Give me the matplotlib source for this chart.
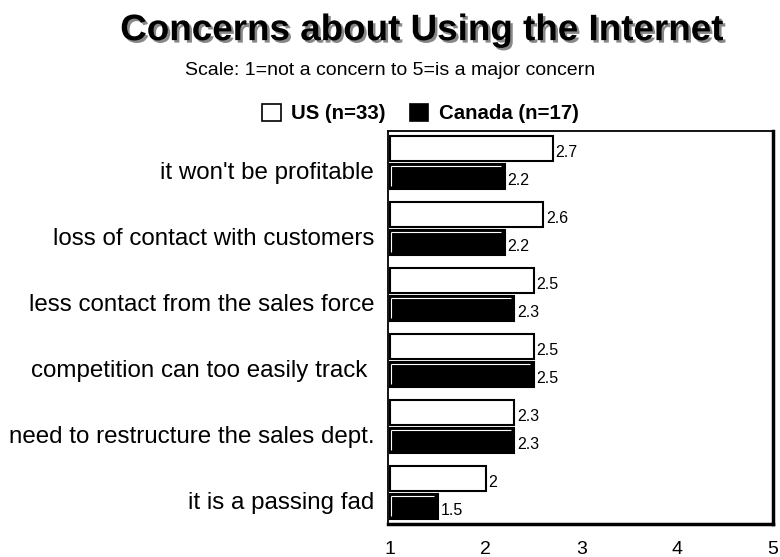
import matplotlib.pyplot as plt
import matplotlib.patheffects as pe
import matplotlib.transforms as mtransforms
from matplotlib.patches import Patch
import numpy as np

plt.rcParams['font.family'] = ['Liberation Sans', 'DejaVu Sans']

concerns = [
    "it won't be profitable",
    "loss of contact with customers",
    "less contact from the sales force",
    "competition can too easily track ",
    "need to restructure the sales dept.",
    "it is a passing fad",
]
us_scores = [2.7, 2.6, 2.5, 2.5, 2.3, 2.0]
canada_scores = [2.2, 2.2, 2.3, 2.5, 2.3, 1.5]
us_labels = ["2.7", "2.6", "2.5", "2.5", "2.3", "2"]
canada_labels = ["2.2", "2.2", "2.3", "2.5", "2.3", "1.5"]
x_ticks = [1, 2, 3, 4, 5]

base = 1
fig = plt.figure(figsize=(7.8, 5.57), dpi=100)
ax = fig.add_axes([0.4974, 0.0592, 0.4936, 0.7056])

y = np.arange(len(concerns))
h = 0.38
off = 0.21
us_w = [v - base for v in us_scores]
ca_w = [v - base for v in canada_scores]
ax.barh(y - off, us_w, height=h, left=base, color='white', edgecolor='black', linewidth=1.5)
ax.barh(y + off, ca_w, height=h, left=base, color='black', edgecolor='black', linewidth=1.5)

# thin white bevel on the top and left inside each black bar
for yi, v in zip(y, canada_scores):
    top = yi + off - h / 2 + 0.03
    ax.hlines(top, base + 0.012, v - 0.04, color='white', linewidth=0.8)
    ax.vlines(base + 0.012, top, yi + off + h / 2 - 0.04, color='white', linewidth=0.8)

for yi, v, lab in zip(y, us_scores, us_labels):
    ax.text(v + 0.03, yi - off + 0.06, lab, va='center', ha='left', fontsize=11.5)
for yi, v, lab in zip(y, canada_scores, canada_labels):
    ax.text(v + 0.03, yi + off + 0.06, lab, va='center', ha='left', fontsize=11.5)

ax.set_xlim(0.98, 5.0)
ax.set_ylim(5.48, -0.48)
ax.set_xticks(x_ticks)
ax.set_xticklabels([str(t) for t in x_ticks], fontsize=14)
ax.set_yticks(y)
ax.set_yticklabels(concerns, fontsize=17.4)
ax.tick_params(axis='x', length=0, pad=12)
ax.tick_params(axis='y', length=0, pad=10)

# labels sit a little below the centre of each pair of bars
shift = mtransforms.ScaledTranslation(0, -0.08, fig.dpi_scale_trans)
for lbl in ax.get_yticklabels():
    lbl.set_transform(lbl.get_transform() + shift)

ax.spines['left'].set_linewidth(1.3)
ax.spines['top'].set_linewidth(1.3)
ax.spines['right'].set_linewidth(2.5)
ax.spines['bottom'].set_linewidth(2.5)

fig.text(0.54, 0.945, "Concerns about Using the Internet", ha='center', va='center',
         fontsize=26.5, fontweight='bold',
         path_effects=[pe.withSimplePatchShadow(offset=(1.8, -1.8), shadow_rgbFace='#888888', alpha=1)])
fig.text(0.5, 0.874, "Scale: 1=not a concern to 5=is a major concern", ha='center', va='center',
         fontsize=14)

handles = [Patch(facecolor='white', edgecolor='black', linewidth=1.2),
           Patch(facecolor='black', edgecolor='black', linewidth=1.2)]
fig.legend(handles, ["US (n=33)", "Canada (n=17)"], loc='center', bbox_to_anchor=(0.539, 0.796),
           ncol=2, frameon=False, prop={'weight': 'bold', 'size': 14.7},
           handlelength=0.9, handleheight=0.9, handletextpad=0.5, columnspacing=1.2)

fig.savefig('out.png', dpi=100)
